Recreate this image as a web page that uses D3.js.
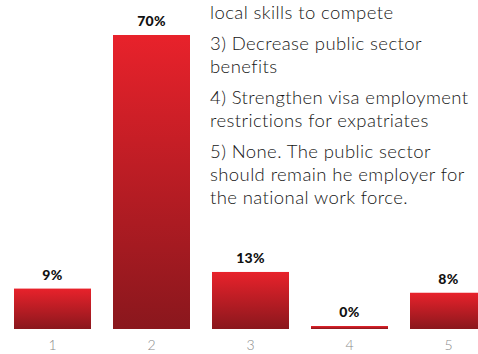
<!DOCTYPE html>
<html>
<head>
<meta charset="utf-8">
<script src="https://cdn.jsdelivr.net/npm/d3@7"></script>
<style>
  html, body { margin: 0; padding: 0; background: #fff; overflow: hidden; }
  svg { display: block; }
</style>
</head>
<body>
<svg id="chart" width="478" height="354"></svg>
<script>
// Survey answers: share of respondents per option
const categories = ["1", "2", "3", "4", "5"];
const values = [9, 70, 13, 0, 8];
const valueLabels = ["9%", "70%", "13%", "0%", "8%"];

// Answer key shown beside the tallest bar (one array per option, one entry per line)
const notes = [
  ["local skills to compete"],
  ["3) Decrease public sector", "benefits"],
  ["4) Strengthen visa employment", "restrictions for expatriates"],
  ["5) None. The public sector", "should remain he employer for", "the national work force."]
];

const svg = d3.select("#chart");
const baseline = 329;
const minBar = 3;

const x = d3.scaleBand()
  .domain(categories)
  .range([3, 498])
  .paddingInner(22 / 99)
  .paddingOuter(11 / 99);

const y = d3.scaleLinear()
  .domain([0, 70])
  .range([baseline - minBar, 35]);

const defs = svg.append("defs");
const grad = defs.append("linearGradient")
  .attr("id", "barFill")
  .attr("x1", 0).attr("y1", 0).attr("x2", 0).attr("y2", 1);
grad.append("stop").attr("offset", "0%").attr("stop-color", "#e8222b");
grad.append("stop").attr("offset", "100%").attr("stop-color", "#8a171d");

const data = categories.map((c, i) => ({ c, v: values[i], label: valueLabels[i] }));

svg.append("g").selectAll("rect")
  .data(data)
  .join("rect")
  .attr("x", d => x(d.c))
  .attr("width", x.bandwidth())
  .attr("y", d => y(d.v))
  .attr("height", d => baseline - y(d.v))
  .attr("fill", "url(#barFill)");

svg.append("g").selectAll("text")
  .data(data)
  .join("text")
  .attr("x", d => x(d.c) + x.bandwidth() / 2)
  .attr("y", d => y(d.v) - 9)
  .attr("text-anchor", "middle")
  .attr("font-family", "Lato, 'Open Sans', sans-serif")
  .attr("font-weight", 900)
  .attr("font-size", 14)
  .attr("letter-spacing", 0.3)
  .attr("fill", "#111")
  .text(d => d.label);

// Category axis without domain line or ticks
const xAxis = svg.append("g")
  .attr("transform", `translate(0,${baseline})`)
  .call(d3.axisBottom(x).tickSize(0).tickPadding(11));
xAxis.select(".domain").remove();
xAxis.selectAll("text")
  .attr("font-family", "Lato, 'Open Sans', sans-serif")
  .attr("font-weight", 300)
  .attr("font-size", 14)
  .attr("fill", "#8a8a8a");

// Answer key text
const noteG = svg.append("g")
  .attr("font-family", "Lato, 'Open Sans', sans-serif")
  .attr("font-weight", 300)
  .attr("font-size", 18.5)
  .attr("letter-spacing", 0.4)
  .attr("fill", "#161616");

let yy = 19;
notes.forEach((para, pi) => {
  if (pi > 0) yy += 31 - 23;
  para.forEach((line) => {
    noteG.append("text").attr("x", 210).attr("y", yy).text(line);
    yy += 23;
  });
});
</script>
</body>
</html>
